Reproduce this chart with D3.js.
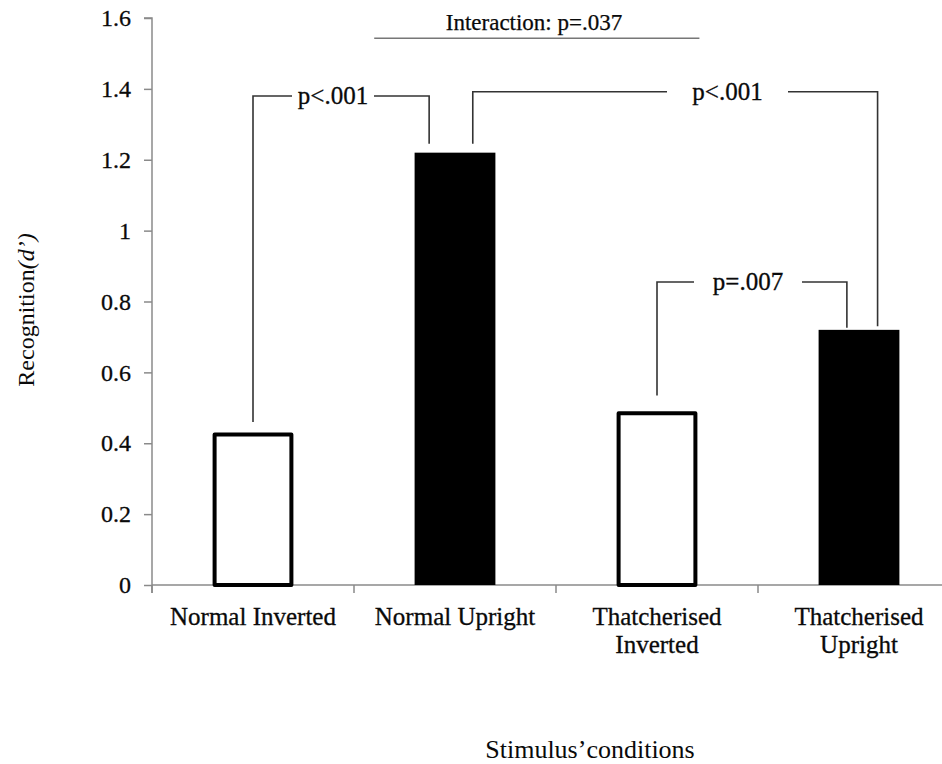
<!DOCTYPE html>
<html>
<head>
<meta charset="utf-8">
<script src="https://cdn.jsdelivr.net/npm/d3@7"></script>
<style>
  html, body { margin: 0; padding: 0; background: #fff; }
  svg { display: block; }
  svg text { font-family: "Liberation Serif", "Times New Roman", Times, "DejaVu Serif", serif !important; }
</style>
</head>
<body>
<svg id="chart" width="942" height="764"></svg>
<script>
// Recognition (d') per stimulus condition
const categories = ["Normal Inverted", "Normal Upright", "Thatcherised Inverted", "Thatcherised Upright"];
const labelLines = [["Normal Inverted"], ["Normal Upright"], ["Thatcherised", "Inverted"], ["Thatcherised", "Upright"]];
const values = [0.43, 1.22, 0.49, 0.72];
const filled = [false, true, false, true];
const yTicks = [0, 0.2, 0.4, 0.6, 0.8, 1, 1.2, 1.4, 1.6];

// Significance brackets: legs are [category index, offset in bandwidths, low value, high value]
const brackets = [
  { label: "p<.001", legs: [[0, 0, 0.46, 1.38], [1, -0.32, 1.245, 1.38]], gap: [292, 374] },
  { label: "p<.001", legs: [[1, 0.22, 1.245, 1.392], [3, 0.23, 0.73, 1.392]], gap: [667, 788] },
  { label: "p=.007", legs: [[2, 0, 0.535, 0.855], [3, -0.15, 0.726, 0.855]], gap: [694, 802] }
];
const interaction = { label: "Interaction: p=.037", value: 1.543 };

const svg = d3.select("#chart");
const plotLeft = 152, plotTop = 18, plotBottom = 585;

const x = d3.scaleBand().domain(categories).range([plotLeft, plotLeft + 808]).paddingInner(0.6).paddingOuter(0.3);
const y = d3.scaleLinear().domain([0, 1.6]).range([plotBottom, plotTop]);
const step = x.step(), bw = x.bandwidth();

const axisColor = "#8a8a8a";
const textColor = "#0a0a0a";
const serif = "'Liberation Serif', 'Times New Roman', Times, serif";

// y axis
const yAxis = svg.append("g").attr("transform", `translate(${plotLeft},0)`)
  .call(d3.axisLeft(y).tickValues(yTicks).tickSize(8).tickPadding(13).tickFormat(d => String(+d.toFixed(1))));
yAxis.attr("font-family", serif);
yAxis.select(".domain").attr("stroke", axisColor).attr("stroke-width", 1.5).attr("d", `M-8,${plotTop}H0V${plotBottom + 8}`);
yAxis.selectAll(".tick line").attr("stroke", axisColor).attr("stroke-width", 1.5);
yAxis.selectAll(".tick text").attr("font-size", 24).attr("fill", textColor)
  .attr("stroke", textColor).attr("stroke-width", 0.3);

// x axis line with ticks at category boundaries
svg.append("line").attr("x1", plotLeft).attr("x2", 942).attr("y1", plotBottom).attr("y2", plotBottom)
  .attr("stroke", axisColor).attr("stroke-width", 1.5);
const boundaries = categories.map(c => x(c) + bw / 2 - step / 2);
svg.selectAll(".xtick").data(boundaries).join("line").attr("class", "xtick")
  .attr("x1", d => d).attr("x2", d => d).attr("y1", plotBottom).attr("y2", plotBottom + 8)
  .attr("stroke", axisColor).attr("stroke-width", 1.5);

// bars
svg.selectAll(".bar").data(categories).join("rect").attr("class", "bar")
  .attr("x", (d, i) => filled[i] ? x(d) : x(d) + 2)
  .attr("width", (d, i) => filled[i] ? bw : bw - 4)
  .attr("y", (d, i) => filled[i] ? y(values[i]) : y(values[i]) + 2)
  .attr("height", (d, i) => filled[i] ? plotBottom - y(values[i]) : plotBottom - y(values[i]) - 2)
  .attr("fill", (d, i) => filled[i] ? "#000" : "#fff")
  .attr("stroke", "#000")
  .attr("stroke-width", (d, i) => filled[i] ? 0 : 4)
  .attr("stroke-linejoin", "round");

// category labels
const catLabels = svg.selectAll(".cat").data(categories).join("text").attr("class", "cat")
  .attr("text-anchor", "middle").attr("font-size", 25).attr("fill", textColor)
  .attr("stroke", textColor).attr("stroke-width", 0.3)
  .attr("transform", d => `translate(${x(d) + bw / 2},625)`);
catLabels.selectAll("tspan").data((d, i) => labelLines[i]).join("tspan")
  .attr("x", 0).attr("y", (d, j) => j * 28).text(d => d);

// significance brackets
const legX = l => x(categories[l[0]]) + bw / 2 + l[1] * bw;
const bStroke = "#333";
brackets.forEach(b => {
  const [l1, l2] = b.legs;
  const x1 = legX(l1), x2 = legX(l2);
  svg.append("path")
    .attr("d", `M${x1},${y(l1[2])}V${y(l1[3])}H${b.gap[0]}`)
    .attr("fill", "none").attr("stroke", bStroke).attr("stroke-width", 1.6);
  svg.append("path")
    .attr("d", `M${b.gap[1]},${y(l2[3])}H${x2}V${y(l2[2])}`)
    .attr("fill", "none").attr("stroke", bStroke).attr("stroke-width", 1.6);
  svg.append("text")
    .attr("x", (b.gap[0] + b.gap[1]) / 2).attr("y", y((l1[3] + l2[3]) / 2) + 8)
    .attr("text-anchor", "middle").attr("font-size", 25).attr("fill", textColor)
    .attr("stroke", textColor).attr("stroke-width", 0.3).text(b.label);
});

// interaction line between the upright/inverted contrasts
const ix1 = boundaries[1] + 0.1 * step, ix2 = boundaries[3] - 0.29 * step;
svg.append("line").attr("x1", ix1).attr("x2", ix2).attr("y1", y(interaction.value)).attr("y2", y(interaction.value))
  .attr("stroke", "#777").attr("stroke-width", 1.5);
svg.append("text").attr("x", 534).attr("y", y(interaction.value) - 8)
  .attr("text-anchor", "middle").attr("font-size", 23).attr("fill", textColor)
  .attr("stroke", textColor).attr("stroke-width", 0.25).text(interaction.label);

// axis titles
svg.append("text").attr("x", 590).attr("y", 758).attr("text-anchor", "middle")
  .attr("font-size", 26).attr("fill", textColor).text("Stimulus\u2019conditions");
const yTitle = svg.append("text").attr("transform", "translate(34,310) rotate(-90)")
  .attr("text-anchor", "middle").attr("font-size", 24).attr("fill", textColor);
yTitle.append("tspan").text("Recognition");
yTitle.append("tspan").attr("font-style", "italic").text("(d\u2019)");
</script>
</body>
</html>
